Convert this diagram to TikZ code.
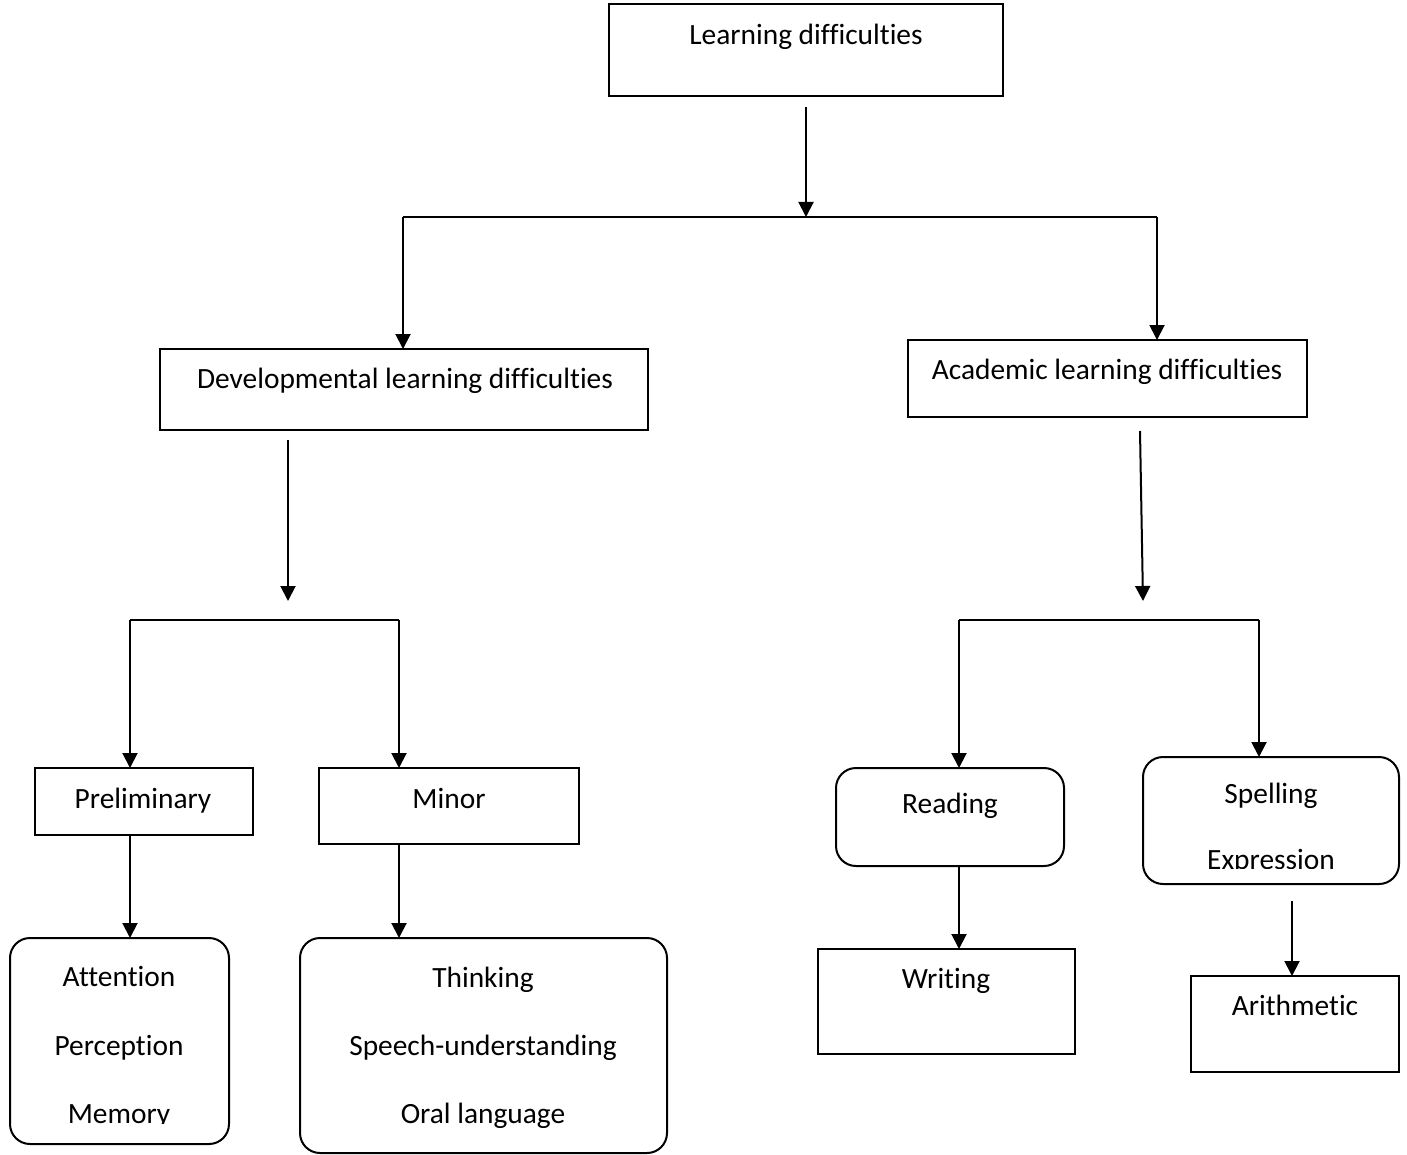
\documentclass[tikz,border=0pt]{standalone}
\usepackage{fontspec}
\setmainfont{Carlito}[Ligatures=NoCommon]
\usepackage{tikz}
\usetikzlibrary{positioning, calc, arrows.meta}
\tikzset{box/.style={draw, thick, line width=1pt, inner sep=0pt, outer sep=0pt}}
\tikzset{rbox/.style={box, rounded corners=10pt}}
\tikzset{lbl/.style={anchor=base, inner sep=0pt, font=\fontsize{14.7}{17.6}\selectfont}}
\tikzset{arc/.style={line width=1pt, -{Triangle[length=7.5pt,width=7.5pt]}}}
\tikzset{bar/.style={line width=1pt}}

\begin{document}
\begin{tikzpicture}[x=0.5pt, y=-0.5pt]

      \useasboundingbox (0,0) rectangle (1407,1155);

      % BOXES

      \node[box, minimum width=197pt, minimum height=46pt] (ld) at (806,50) {};
      \node[box, minimum width=244pt, minimum height=40.5pt] (dev) at (404,389.5) {};
      \node[box, minimum width=199.5pt, minimum height=38.5pt] (acad) at (1107.5,378.5) {};
      \node[box, minimum width=109pt, minimum height=33.5pt] (prel) at (144,801.5) {};
      \node[box, minimum width=130pt, minimum height=38pt] (minor) at (449,806) {};
      \node[rbox, minimum width=114pt, minimum height=49pt] (read) at (950,817) {};
      \node[rbox, minimum width=128pt, minimum height=63.5pt] (spell) at (1271,820.5) {};
      \node[rbox, minimum width=109.5pt, minimum height=103pt] (attn) at (119.5,1041) {};
      \node[rbox, minimum width=183.5pt, minimum height=107.5pt] (think) at (483.5,1045.5) {};
      \node[box, minimum width=128.5pt, minimum height=52.5pt] (write) at (946.5,1001.5) {};
      \node[box, minimum width=104pt, minimum height=48pt] (arith) at (1295,1024) {};

      % LABELS

      \node[lbl] (ldLabel) at (806,45) {Learning difficulties};
      \node[lbl] (devLabel) at (405,388) {Developmental learning difficulties};
      \node[lbl] (acadLabel) at (1107,379) {Academic learning difficulties};
      \node[lbl] (prelLabel) at (143,808) {Preliminary};
      \node[lbl] (minorLabel) at (449,808) {Minor};
      \node[lbl] (readLabel) at (950,813) {Reading};
      \node[lbl] (spellLabel) at (1271,803) {Spelling};
      \begin{scope}
        \clip (1145,830) rectangle (1397,868.5);
        \node[lbl] (exprLabel) at (1271,869) {Expression};
      \end{scope}
      \node[lbl] (attnLabel) at (119,986) {Attention};
      \node[lbl] (percLabel) at (119,1055) {Perception};
      \begin{scope}
        \clip (12,1090) rectangle (227,1123.5);
        \node[lbl] (memLabel) at (119,1123) {Memory};
      \end{scope}
      \node[lbl] (thinkLabel) at (483,987) {Thinking};
      \node[lbl] (speechLabel) at (483,1055) {Speech-understanding};
      \node[lbl] (oralLabel) at (483,1123) {Oral language};
      \node[lbl] (writeLabel) at (946,988) {Writing};
      \node[lbl] (arithLabel) at (1295,1015) {Arithmetic};

      % JUNCTIONS

      \coordinate (rl) at (403,217);
      \coordinate (rr) at (1157,217);
      \coordinate (d1) at (288,440);
      \coordinate (d2) at (288,601);
      \coordinate (dl) at (130,620);
      \coordinate (dr) at (399,620);
      \coordinate (a1) at (1140,431);
      \coordinate (a2) at (1143,601);
      \coordinate (al) at (959,620);
      \coordinate (ar) at (1259,620);
      \coordinate (s1) at (1292,901);

      % ARCS

      \draw[arc] ($(ld.south)+(0,11)$) -- (ld.south |- rl);
      \draw[bar] (rl) -- (rr);
      \draw[arc] (rl) -- (rl |- dev.north);
      \draw[arc] (rr) -- (rr |- acad.north);

      \draw[arc] (d1) -- (d2);
      \draw[bar] (dl) -- (dr);
      \draw[arc] (dl) -- (dl |- prel.north);
      \draw[arc] (dr) -- (dr |- minor.north);
      \draw[arc] (dl |- prel.south) -- (dl |- attn.north);
      \draw[arc] (dr |- minor.south) -- (dr |- think.north);

      \draw[arc] (a1) -- (a2);
      \draw[bar] (al) -- (ar);
      \draw[arc] (al) -- (al |- read.north);
      \draw[arc] (ar) -- (ar |- spell.north);
      \draw[arc] (al |- read.south) -- (al |- write.north);
      \draw[arc] (s1) -- (s1 |- arith.north);
    \end{tikzpicture}
\end{document}
